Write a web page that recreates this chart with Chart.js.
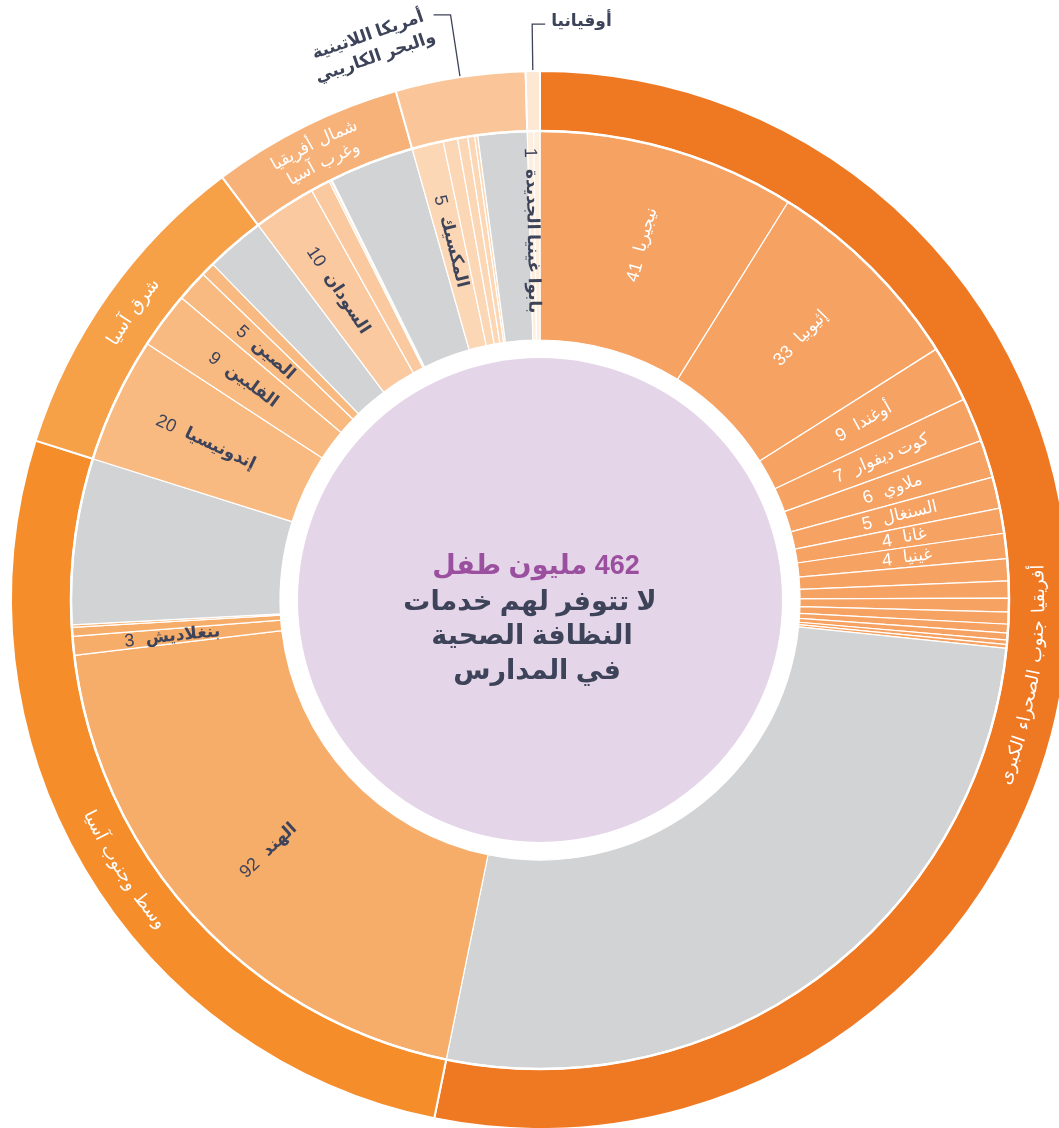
<!DOCTYPE html>
<html lang="ar">
<head>
<meta charset="utf-8">
<script src="https://cdn.jsdelivr.net/npm/chart.js@4.4.1/dist/chart.umd.min.js"></script>
<style>
  html,body{margin:0;padding:0;background:#fff}
  canvas{display:block}
</style>
</head>
<body>
<canvas id="sunburst" width="1059" height="1128"></canvas>
<script>
/* Sunburst: children without basic sanitation service at school, by region and country (millions) */

var REST='بقية البلدان';

var regions=['أفريقيا جنوب الصحراء الكبرى','وسط وجنوب آسيا','شرق آسيا','شمال أفريقيا\nوغرب آسيا','أمريكا اللاتينية\nوالبحر الكاريبي','أوقيانيا'];

// clockwise from 12 o'clock; '' = small unnamed country, REST = rest of the region
var countries=[
  'نيجيريا','إثيوبيا','أوغندا','كوت ديفوار','ملاوي','السنغال','غانا','غينيا','','','','','','','','',REST,
  'الهند','بنغلاديش','','',REST,
  'إندونيسيا','الفلبين','الصين','',REST,
  'السودان','','','',REST,
  'المكسيك','','','','',REST,
  'بابوا غينيا الجديدة',''
];
var countryValues=[
  41,33,9,7,6,5,4,4,3.5,2.7,2.2,1.9,1.4,1.1,0.7,0.6,122.7,
  92,3,1.4,0.4,26.4,
  20,9,5,2.2,9.4,
  10,3.1,0.3,0.2,13.5,
  5,2.3,1.6,1.1,0.5,7.8,
  1,1
];
var countryRegion=[
  0,0,0,0,0,0,0,0,0,0,0,0,0,0,0,0,0,
  1,1,1,1,1,
  2,2,2,2,2,
  3,3,3,3,3,
  4,4,4,4,4,4,
  5,5
];

var totalChildren=462;

// colours
var regionColors=['#ef7823','#f58d2b','#f6a048','#f7b27a','#fac699','#fde8d4'];
var countryColors=['#f5a263','#f7ad6a','#f8ba80','#fac9a0','#fcd7b6','#feeedd'];
var restColor='#d1d3d4';
var darkText='#3d4359';
var purpleText='#9a4f9f';
var discColor='#e5d5e8';
var regionTextColors=['#fff','#fff','#fff','#fff',darkText,darkText];
var countryTextColors=['#fff',darkText,darkText,darkText,darkText,darkText];

var regionValues=regions.map(function(r,ri){
  var s=0;
  countryValues.forEach(function(v,i){if(countryRegion[i]===ri)s+=v});
  return Math.round(s*10)/10;
});

var sliceColors=countries.map(function(c,i){return c===REST?restColor:countryColors[countryRegion[i]]});

var FONT='"Liberation Sans","DejaVu Sans",sans-serif';
var DEG=Math.PI/180;

// label placement tweaks for the region ring (degrees added to the arc's mid angle)
var regionNudge=[3,-2.5,0,0,0,0];

/* purple disc in the hole */
var centerDisc={
  id:'centerDisc',
  beforeDatasetsDraw:function(chart){
    var arc=chart.getDatasetMeta(1).data[0];
    var ctx=chart.ctx;
    ctx.save();
    ctx.beginPath();
    ctx.arc(arc.x,arc.y,arc.innerRadius-18,0,Math.PI*2);
    ctx.fillStyle=discColor;
    ctx.fill();
    ctx.restore();
  },
  afterDatasetsDraw:function(chart){
    var ctx=chart.ctx;
    var arc=chart.getDatasetMeta(1).data[0];
    // white seam between the two rings
    ctx.save();
    ctx.beginPath();
    ctx.arc(arc.x,arc.y,arc.outerRadius,0,Math.PI*2);
    ctx.strokeStyle='#fff';
    ctx.lineWidth=2.5;
    ctx.stroke();

    ctx.direction='rtl';
    ctx.textAlign='center';
    ctx.textBaseline='middle';
    ctx.font='bold 27px '+FONT;
    ctx.fillStyle=purpleText;
    ctx.fillText(totalChildren+' مليون طفل',arc.x-4,arc.y-33);
    ctx.fillStyle=darkText;
    ctx.fillText('لا تتوفر لهم خدمات',arc.x-10,arc.y+3);
    ctx.fillText('النظافة الصحية',arc.x-8,arc.y+37);
    ctx.fillText('في المدارس',arc.x-3,arc.y+72);
    ctx.restore();
  }
};

function midTheta(a){
  // canvas angle -> degrees clockwise from 12 o'clock, 0..360
  var t=(a/DEG+90)%360;
  return t<0?t+360:t;
}

/* country names + values, radial */
function drawCountryLabels(chart){
  var ctx=chart.ctx;
  var meta=chart.getDatasetMeta(1);
  meta.data.forEach(function(arc,i){
    var name=countries[i];
    if(!name||name===REST)return;
    var a=(arc.startAngle+arc.endAngle)/2;
    var r=(arc.innerRadius+arc.outerRadius)/2+5;
    var th=midTheta(a);
    var rot=th<180?a:a+Math.PI;
    var ri=countryRegion[i];
    var white=countryTextColors[ri]==='#fff';
    var num=String(countryValues[i]);
    ctx.save();
    ctx.translate(arc.x+r*Math.cos(a),arc.y+r*Math.sin(a));
    ctx.rotate(rot);
    ctx.fillStyle=countryTextColors[ri];
    ctx.textBaseline='middle';
    ctx.direction='rtl';
    var nameFont=(white?'':'bold ')+'17px '+FONT;
    var numFont='18px '+FONT;
    ctx.font=nameFont;
    var wn=ctx.measureText(name).width;
    ctx.font=numFont;
    var wv=ctx.measureText(num).width;
    var gap=11;
    var w=wn+gap+wv;
    ctx.font=nameFont;
    ctx.textAlign='right';
    ctx.fillText(name,w/2,0);
    ctx.font=numFont;
    ctx.textAlign='left';
    ctx.fillText(num,-w/2,1);
    ctx.restore();
  });
}

/* words laid along an arc; theta in degrees */
function drawArcText(ctx,cx,cy,text,theta,r){
  var words=text.split(' ');
  var space=ctx.measureText(' ').width*1.4;
  var widths=words.map(function(w){return ctx.measureText(w).width});
  var total=widths.reduce(function(s,w){return s+w},0)+space*(words.length-1);
  var bottom=theta>90&&theta<270;
  var s=bottom?-1:1;
  var off=0;
  words.forEach(function(w,i){
    var t=(theta+s*(total/2-off-widths[i]/2)/r/DEG)*DEG;
    var a=t-Math.PI/2;
    ctx.save();
    ctx.translate(cx+r*Math.cos(a),cy+r*Math.sin(a));
    ctx.rotate(bottom?a-Math.PI/2:a+Math.PI/2);
    ctx.fillText(w,0,0);
    ctx.restore();
    off+=widths[i]+space;
  });
}

function drawRegionLabels(chart){
  var ctx=chart.ctx;
  var meta=chart.getDatasetMeta(0);
  ctx.save();
  ctx.direction='rtl';
  ctx.textAlign='center';
  ctx.textBaseline='middle';
  meta.data.forEach(function(arc,i){
    var lines=regions[i].split('\n');
    var a=(arc.startAngle+arc.endAngle)/2;
    var th=midTheta(a)+regionNudge[i];
    var rMid=(arc.innerRadius+arc.outerRadius)/2;
    if(i<4){
      ctx.fillStyle=regionTextColors[i];
      ctx.font=(lines.length>1?'17px ':'18px ')+FONT;
      lines.forEach(function(line,k){
        var r=rMid+(lines.length>1?(k===0?10:-11):0);
        drawArcText(ctx,arc.x,arc.y,line,th,r);
      });
      return;
    }
    // small regions: leader line out of the ring, label beside it
    var ta=th*DEG-Math.PI/2;
    var r0=arc.outerRadius+1;
    var r1=i===4?592:576;
    var x1=arc.x+r1*Math.cos(ta),y1=arc.y+r1*Math.sin(ta);
    var x2=i===4?x1-17:x1+13;
    ctx.strokeStyle=darkText;
    ctx.lineWidth=1.3;
    ctx.beginPath();
    ctx.moveTo(arc.x+r0*Math.cos(ta),arc.y+r0*Math.sin(ta));
    ctx.lineTo(x1,y1);
    ctx.lineTo(x2,y1);
    ctx.stroke();
    ctx.fillStyle=regionTextColors[i];
    ctx.font='bold 17px '+FONT;
    if(i===4){
      ctx.save();
      ctx.translate(x2-62,y1+31);
      ctx.rotate(-19*DEG);
      ctx.fillText(lines[0],0,-11);
      ctx.fillText(lines[1],0,12);
      ctx.restore();
    }else{
      ctx.textAlign='left';
      ctx.fillText(lines[0],x2+6,y1-3);
      ctx.textAlign='center';
    }
  });
  ctx.restore();
}

var ringLabels={
  id:'ringLabels',
  afterDraw:function(chart){
    drawCountryLabels(chart);
    drawRegionLabels(chart);
  }
};

new Chart(document.getElementById('sunburst'),{
  type:'doughnut',
  data:{
    labels:countries,
    datasets:[
      {label:'region',data:regionValues,backgroundColor:regionColors,borderColor:'#fff',borderWidth:2,weight:60,clip:false},
      {label:'country',data:countryValues,backgroundColor:sliceColors,borderColor:'#fff',borderWidth:1.2,weight:209,clip:false}
    ]
  },
  options:{
    responsive:false,
    animation:false,
    events:[],
    radius:529,
    cutout:'49.15%',
    rotation:0,
    layout:{padding:{left:21,right:0,top:72,bottom:0}},
    plugins:{legend:{display:false},tooltip:{enabled:false}}
  },
  plugins:[centerDisc,ringLabels]
});
</script>
</body>
</html>
